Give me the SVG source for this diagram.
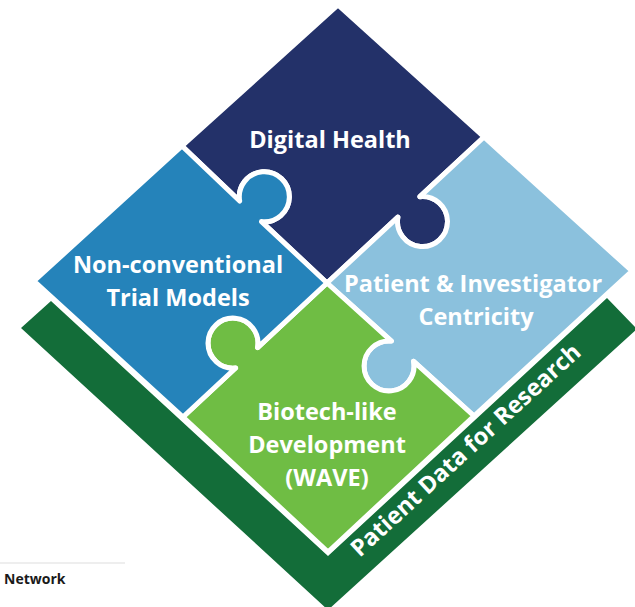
<svg xmlns="http://www.w3.org/2000/svg" width="635" height="607" viewBox="0 0 635 607">
<style>
.pc{stroke:#fff;stroke-width:5;stroke-linejoin:round}
.lbl{font-family:"Open Sans","Liberation Sans",sans-serif;font-weight:700;font-size:23.5px;fill:#fff;text-anchor:middle}
</style>
<rect width="635" height="607" fill="#fff"/>
<g id="base">
<path d="M51,301 L328,556 L607,298 L637,329 L328,610 L21,328 Z" fill="#136D39"/>
<text class="lbl" transform="translate(471,456) rotate(-42.5)" x="0" y="0">Patient Data for Research</text>
</g>
<g id="digital-health">
<path class="pc" fill="#233169" d="M338,5 L484,137 L419.9,196.7 A25,25 0 1 1 397.9,217.1 L327,283 L261.5,221.6 A25,25 0 1 0 239.7,201 L182,146 Z"/>
<text class="lbl" x="330" y="148">Digital Health</text>
</g>
<g id="patient-centricity">
<path class="pc" fill="#8BC1DD" d="M484,137 L632,271 L474,416 L413.6,361.3 A25,25 0 1 1 391.4,341.1 L327,283 L397.9,217.1 A25,25 0 1 0 419.9,196.7 Z"/>
<text class="lbl" x="473" y="292">Patient &amp; Investigator</text>
<text class="lbl" x="476" y="325">Centricity</text>
</g>
<g id="biotech">
<path class="pc" fill="#6FBD44" d="M327,283 L391.4,341.1 A25,25 0 1 0 413.6,361.3 L474,416 L328,552 L183,417 L235.6,368 A25,25 0 1 1 257.6,347.6 Z"/>
<text class="lbl" x="327" y="420">Biotech-like</text>
<text class="lbl" x="327" y="453">Development</text>
<text class="lbl" x="327" y="486">(WAVE)</text>
</g>
<g id="non-conventional">
<path class="pc" fill="#2583BA" d="M182,146 L239.7,201 A25,25 0 1 1 261.5,221.6 L327,283 L257.6,347.6 A25,25 0 1 0 235.6,368 L183,417 L34,281 Z"/>
<text class="lbl" x="178" y="273">Non-conventional</text>
<text class="lbl" x="178" y="306">Trial Models</text>
</g>
<g id="footer">
<line x1="0" y1="563" x2="125" y2="563" stroke="#e8e8e8" stroke-width="1.5"/>
<text x="4" y="584" font-family="Open Sans, Liberation Sans, sans-serif" font-weight="700" font-size="14" fill="#1a1a1a">Network</text>
</g>
</svg>
